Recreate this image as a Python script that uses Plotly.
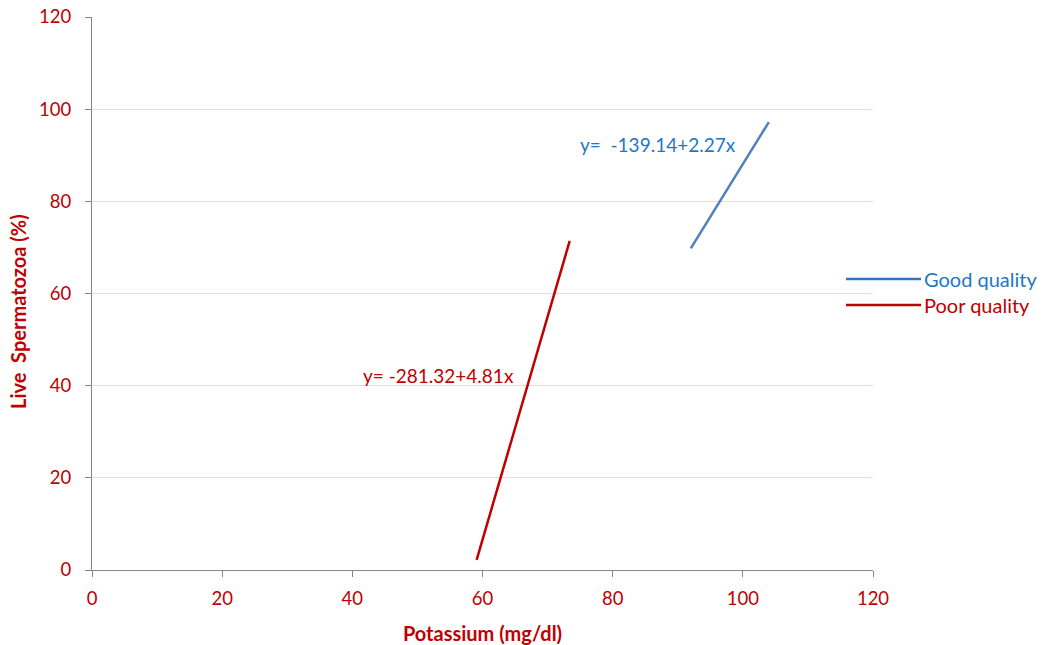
import plotly.graph_objects as go

# Data (regression line end points)
series_names = ["Good quality", "Poor quality"]
good_x = [92.0, 104.0]
good_y = [69.8, 97.2]
poor_x = [59.1, 73.4]
poor_y = [2.2, 71.4]
equations = ["y=  -139.14+2.27x", "y= -281.32+4.81x"]
eq_pos_x = [87.0, 53.3]
eq_pos_y = [92.4, 42.3]
x_ticks = [0, 20, 40, 60, 80, 100, 120]
y_ticks = [0, 20, 40, 60, 80, 100, 120]

BLUE_LINE = "#4F81BD"
BLUE_TEXT = "#1F77C4"
RED = "#C00000"
FONT = "Lato"

fig = go.Figure()
fig.add_trace(go.Scatter(x=good_x, y=good_y, mode="lines", name=series_names[0],
                         line=dict(color=BLUE_LINE, width=2.5), showlegend=False))
fig.add_trace(go.Scatter(x=poor_x, y=poor_y, mode="lines", name=series_names[1],
                         line=dict(color=RED, width=2.5), showlegend=False))

# equation labels
fig.add_annotation(x=eq_pos_x[0], y=eq_pos_y[0], text=equations[0], showarrow=False,
                   font=dict(color=BLUE_TEXT, size=19, family=FONT))
fig.add_annotation(x=eq_pos_x[1], y=eq_pos_y[1], text=equations[1], showarrow=False,
                   font=dict(color=RED, size=19, family=FONT))

# manual legend (Excel-style long line samples)
leg_colors = ["#2E75C6", RED]
leg_text_colors = [BLUE_TEXT, RED]
leg_y = [279, 305]
for name, lc, tc, yy in zip(series_names, leg_colors, leg_text_colors, leg_y):
    fig.add_shape(type="line", xref="paper", yref="paper",
                  x0=(846 - 92) / 781, x1=(921 - 92) / 781, y0=(570 - yy) / 553, y1=(570 - yy) / 553,
                  line=dict(color=lc, width=2.5))
    fig.add_annotation(xref="paper", yref="paper", x=(922 - 92) / 781, y=(570 - yy) / 553,
                       xanchor="left", yanchor="middle", text=name, showarrow=False,
                       font=dict(color=tc, size=20, family=FONT))

# y axis title
fig.add_annotation(xref="paper", yref="paper", x=(18 - 92) / 781, y=(570 - 312) / 553,
                   text="<b>Live  Spermatozoa (%)</b>", textangle=-90, showarrow=False,
                   xanchor="center", yanchor="middle",
                   font=dict(color=RED, size=20, family=FONT))

fig.update_layout(
    width=1043, height=645,
    margin=dict(l=92, r=170, t=17, b=75, autoexpand=False),
    paper_bgcolor="white", plot_bgcolor="white",
    font=dict(family=FONT, color=RED, size=18),
    xaxis=dict(range=[0, 120], tickvals=x_ticks, showgrid=False, zeroline=False,
               showline=True, linecolor="#868686", linewidth=1, automargin=False,
               ticks="outside", ticklen=6, tickcolor="#868686",
               ticklabelstandoff=6,
               tickfont=dict(color=RED, size=18.5, family=FONT),
               title=dict(text="<b>Potassium (mg/dl)</b>", standoff=20,
                          font=dict(color=RED, size=20, family=FONT))),
    yaxis=dict(range=[0, 120], tickvals=y_ticks, showgrid=True, gridcolor="#F4D7D7",
               gridwidth=1, zeroline=False, automargin=False,
               showline=True, linecolor="#868686", linewidth=1,
               ticks="outside", ticklen=6, tickcolor="#868686",
               ticklabelstandoff=10,
               tickfont=dict(color=RED, size=18.5, family=FONT)),
)

fig.write_html("out.html")
